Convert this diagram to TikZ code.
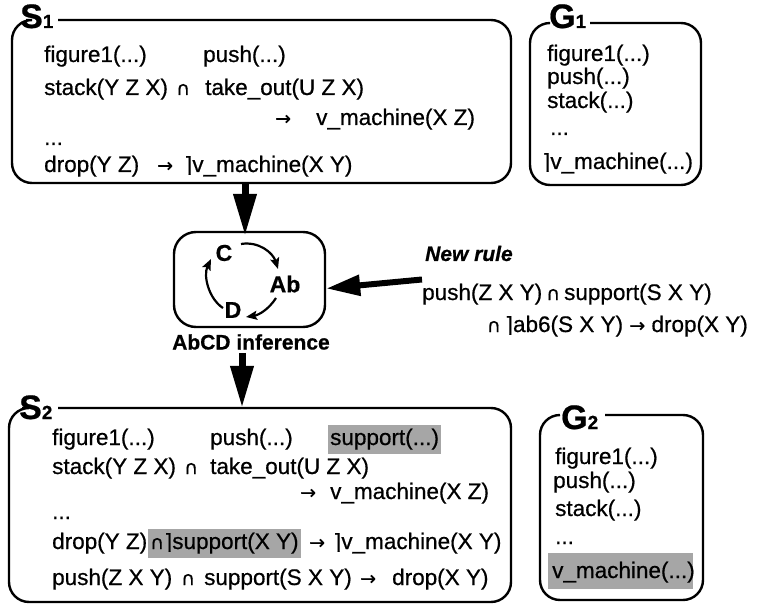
\documentclass[tikz,border=0pt]{standalone}
\usepackage{fontspec}
\setmainfont{Liberation Sans}[FakeBold=0.6]
\newfontfamily\symf{DejaVu Sans}[FakeBold=0.4]
\usetikzlibrary{arrows.meta}
\newcommand\tsz{\fontsize{22.5}{25}\selectfont}
\newcommand\capsym{{\symf\fontsize{19}{19}\selectfont ∩}}
\newcommand\arr{{\symf\fontsize{19}{19}\selectfont →}}
\newcommand\ngt{{\symf\fontsize{21}{21}\selectfont ⌉}}
\newcommand\lblsub[1]{{\fontsize{19}{19}\selectfont #1}}
\newcommand\gp{\hspace{4pt}}
\begin{document}
\begin{tikzpicture}[x=1pt,y=-1pt,
  tx/.style={anchor=base west,inner sep=0pt,font=\tsz},
  frm/.style={line width=2.4pt,rounded corners=20pt},
  lbl/.style={anchor=base west,inner sep=0pt,font=\fontsize{34}{34}\selectfont\bfseries},
  hl/.style={fill=black!35,inner xsep=2pt,inner ysep=4pt},
  big/.style={line width=7pt,-{Triangle[length=42pt,width=22pt]}},
  cyc/.style={line width=2.2pt,-{Stealth[length=11pt,width=9pt,inset=2pt]}},
  bld/.style={inner sep=0pt,font=\fontsize{23}{23}\selectfont\bfseries}]
\useasboundingbox (0,0) rectangle (764,607);

% ---------- S1 ----------
\node[inner sep=0pt,minimum width=499pt,minimum height=163pt] (s1) at (261.5,101.5) {};
\draw[frm] (58,20) -- (511,20) -- (511,183) -- (12,183) -- (12,20) -- (26,20);
\node[lbl] (s1lab) at (20,28) {S\lblsub{1}};
\node[tx] (s1a) at (44,62) {figure1(...)};
\node[tx] (s1b) at (203,62) {push(...)};
\node[tx] (s1c) at (44,95) {stack(Y Z X)};
\node[tx] (s1d) at (176,95) {\capsym};
\node[tx] (s1e) at (205,95) {take\_out(U Z X)};
\node[tx] (s1f) at (275,125) {\arr};
\node[tx] (s1g) at (316,125) {v\_machine(X Z)};
\node[tx] (s1h) at (44,145) {...};
\node[tx] (s1i) at (44,172) {drop(Y Z)};
\node[tx] (s1j) at (157,172) {\arr};
\node[tx] (s1k) at (184,172) {\ngt v\_machine(X Y)};

% ---------- G1 ----------
\node[inner sep=0pt,minimum width=171pt,minimum height=162pt] (g1) at (615.5,104) {};
\draw[frm] (590,23) -- (701,23) -- (701,185) -- (530,185) -- (530,23) -- (548,23);
\node[lbl] (g1lab) at (549,28) {G\lblsub{1}};
\node[tx] (g1a) at (547,61) {figure1(...)};
\node[tx] (g1b) at (547,84) {push(...)};
\node[tx] (g1c) at (547,108) {stack(...)};
\node[tx] (g1d) at (550,135) {...};
\node[tx] (g1e) at (542,169) {\ngt v\_machine(...)};

% ---------- AbCD inference ----------
\node[draw,line width=2.4pt,rounded corners=22pt,inner sep=0pt,
      minimum width=151pt,minimum height=95pt] (inf) at (249.5,279.5) {};
\node[bld] (nc) at (224,253) {C};
\node[bld] (nab) at (285,284) {Ab};
\node[bld] (nd) at (233,310) {D};
\draw[cyc] ([shift={(17,-9)}]nc.center) .. controls +(18,-3) and +(-5,-16) .. ([shift={(-7,-15)}]nab.center);
\draw[cyc] ([shift={(-9,14)}]nab.center) .. controls +(-7,11) and +(13,-2) .. ([shift={(13,7)}]nd.center);
\draw[cyc] ([shift={(-10,-2)}]nd.center) .. controls +(-14,-9) and +(-8,17) .. ([shift={(-13,6)}]nc.center);
\node[inner sep=0pt,font=\fontsize{21}{21}\selectfont\bfseries] (infl) at (251,342) {AbCD inference};

% ---------- New rule ----------
\node[anchor=base west,inner sep=0pt,font=\fontsize{21}{21}\selectfont\bfseries\itshape] (nr) at (425,261) {New rule};
\node[tx] (rl1) at (422,300) {push(Z X Y)\gp\capsym\gp support(S X Y)};
\node[tx,anchor=base east] (rl2) at (748,332) {\capsym\gp\ngt ab6(S X Y) \arr{} drop(X Y)};

% ---------- S2 ----------
\node[inner sep=0pt,minimum width=502pt,minimum height=194pt] (s2) at (260,505) {};
\draw[frm] (58,408) -- (511,408) -- (511,602) -- (9,602) -- (9,408) -- (22,408);
\node[lbl] (s2lab) at (19,419) {S\lblsub{2}};
\node[tx] (s2a) at (52,445) {figure1(...)};
\node[tx] (s2b) at (210,445) {push(...)};
\node[tx,hl] (s2c) at (328,445) {support(...)};
\node[tx] (s2d) at (52,474) {stack(Y Z X)};
\node[tx] (s2e) at (184,474) {\capsym};
\node[tx] (s2f) at (210,474) {take\_out(U Z X)};
\node[tx] (s2g) at (300,499) {\arr};
\node[tx] (s2h) at (330,499) {v\_machine(X Z)};
\node[tx] (s2i) at (52,519) {...};
\node[tx] (s2j) at (52,549) {drop(Y Z)};
\node[tx,hl] (s2k) at (148,549) {\capsym\ngt support(X Y)};
\node[tx] (s2l) at (309,549) {\arr};
\node[tx] (s2m) at (333,549) {\ngt v\_machine(X Y)};
\node[tx] (s2n) at (52,585) {push(Z X Y)};
\node[tx] (s2o) at (181,585) {\capsym};
\node[tx] (s2p) at (204,585) {support(S X Y)};
\node[tx] (s2q) at (360,585) {\arr};
\node[tx] (s2r) at (392,585) {drop(X Y)};

% ---------- G2 ----------
\node[inner sep=0pt,minimum width=163pt,minimum height=185pt] (g2) at (621.5,507.5) {};
\draw[frm] (605,415) -- (703,415) -- (703,600) -- (540,600) -- (540,415) -- (560,415);
\node[lbl] (g2lab) at (561,429) {G\lblsub{2}};
\fill[black!35] (548,553) rectangle (693,589);
\node[tx] (g2a) at (555,464) {figure1(...)};
\node[tx] (g2b) at (553,488) {push(...)};
\node[tx] (g2c) at (555,516) {stack(...)};
\node[tx] (g2d) at (555,544) {...};
\node[tx] (g2e) at (552,578) {v\_machine(...)};

% ---------- connectors ----------
\draw[big] ([xshift=-4.5pt]inf.north |- s1.south) -- ([xshift=-4.5pt,yshift=-5pt]inf.north);
\draw[big] ([xshift=-9pt,yshift=-3pt]infl.south) -- ([xshift=-9pt]infl.south |- s2.north);
\draw[line width=6pt,-{Triangle[length=34pt,width=20pt]}] ([yshift=4pt]rl1.north west) -- ([yshift=-9pt]inf.east);
\end{tikzpicture}
\end{document}
